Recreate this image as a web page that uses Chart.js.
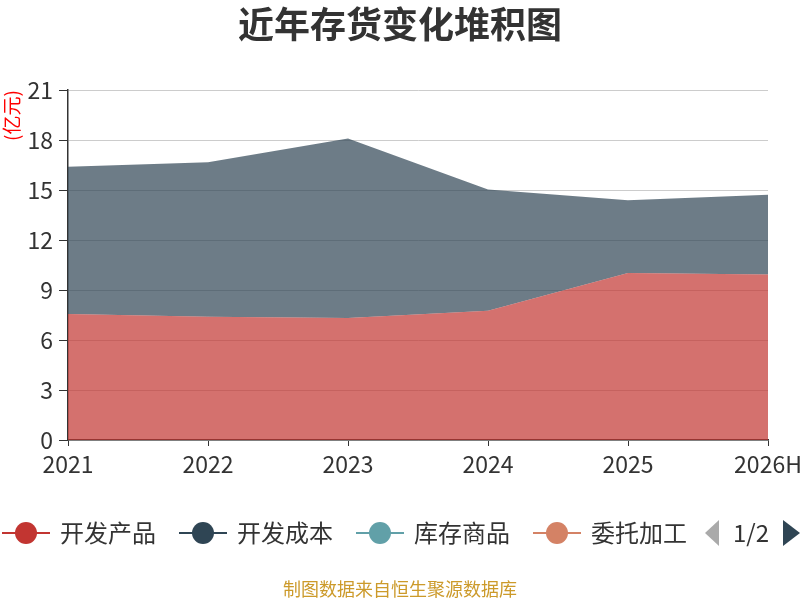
<!DOCTYPE html>
<html>
<head>
<meta charset="utf-8">
<script src="https://cdn.jsdelivr.net/npm/chart.js@4/dist/chart.umd.min.js"></script>
<style>
  html, body { margin: 0; padding: 0; background: #fff; }
  #wrap { width: 800px; height: 600px; }
</style>
</head>
<body>
<div id="wrap"><canvas id="chart"></canvas></div>
<script>
const years = ['2021', '2022', '2023', '2024', '2025', '2026H'];
const devProducts = [7.56, 7.4, 7.32, 7.76, 10.02, 9.94];
const devCost = [8.84, 9.28, 10.78, 7.28, 4.38, 4.78];
const stockGoods = [0, 0, 0, 0, 0, 0];
const consigned = [0, 0, 0, 0, 0, 0];
const seriesNames = ['开发产品', '开发成本', '库存商品', '委托加工'];
const seriesColors = ['#c23531', '#2f4554', '#61a0a8', '#d48265'];
const fillColors = ['rgba(194,53,49,0.7)', 'rgba(47,69,84,0.7)', 'rgba(97,160,168,0.7)', 'rgba(212,130,101,0.7)'];
const yMax = 21;
const yStep = 3;

const FONT = '"Noto Sans CJK SC", "Noto Sans", sans-serif';

// legend + pager + source note drawn under the plot
const bottomLegend = {
  id: 'bottomLegend',
  afterDraw(chart) {
    const ctx = chart.ctx;
    const y = 533;
    let x = 2;
    ctx.save();
    ctx.font = '24px ' + FONT;
    ctx.textBaseline = 'middle';
    chart.data.datasets.forEach((ds, i) => {
      const c = seriesColors[i];
      ctx.strokeStyle = c;
      ctx.lineWidth = 2;
      ctx.beginPath();
      ctx.moveTo(x, y);
      ctx.lineTo(x + 48, y);
      ctx.stroke();
      ctx.fillStyle = c;
      ctx.beginPath();
      ctx.arc(x + 24, y, 11, 0, Math.PI * 2);
      ctx.fill();
      ctx.fillStyle = '#333';
      ctx.textAlign = 'left';
      ctx.fillText(ds.label, x + 58, y);
      x += 58 + ctx.measureText(ds.label).width + 23;
    });
    // pager
    ctx.fillStyle = '#aaa';
    ctx.beginPath();
    ctx.moveTo(705, y);
    ctx.lineTo(719, y - 13);
    ctx.lineTo(719, y + 13);
    ctx.closePath();
    ctx.fill();
    ctx.fillStyle = '#333';
    ctx.textAlign = 'center';
    ctx.fillText('1/2', 751, y);
    ctx.fillStyle = '#2f4554';
    ctx.beginPath();
    ctx.moveTo(800, y);
    ctx.lineTo(783, y - 13);
    ctx.lineTo(783, y + 13);
    ctx.closePath();
    ctx.fill();
    // source note
    ctx.font = '18px ' + FONT;
    ctx.fillStyle = '#cc9a2a';
    ctx.fillText('制图数据来自恒生聚源数据库', 400, 589);
    ctx.restore();
  }
};

const dataSets = [devProducts, devCost, stockGoods, consigned].map((vals, i) => ({
  label: seriesNames[i],
  data: vals,
  backgroundColor: fillColors[i],
  borderColor: seriesColors[i],
  borderWidth: 0,
  pointRadius: 0,
  tension: 0,
  fill: i === 0 ? 'origin' : (i === 1 ? '-1' : false)
}));

new Chart(document.getElementById('chart'), {
  type: 'line',
  data: { labels: years, datasets: dataSets },
  options: {
    responsive: true,
    maintainAspectRatio: false,
    animation: false,
    layout: { padding: { left: 0, right: 0, top: 0, bottom: 120 } },
    plugins: {
      legend: { display: false },
      tooltip: { enabled: false },
      title: {
        display: true,
        text: '近年存货变化堆积图',
        color: '#333',
        font: { family: FONT, size: 36, weight: 'bold' },
        padding: { top: 3, bottom: 44 }
      }
    },
    scales: {
      x: {
        offset: false,
        grid: { drawOnChartArea: false, tickLength: 6, tickColor: '#333' },
        border: { color: '#333', width: 1.5 },
        ticks: { color: '#333', padding: 4, maxRotation: 0, font: { family: FONT, size: 23 } },
        afterFit(scale) {
          scale.height = 40;
          scale.paddingRight = 32;
        }
      },
      y: {
        stacked: true,
        min: 0,
        max: yMax,
        grid: { color: '#ccc', tickLength: 9, tickColor: '#333' },
        border: { color: '#333', width: 1.5 },
        ticks: { stepSize: yStep, color: '#333', padding: 6, font: { family: FONT, size: 23 } },
        title: {
          display: true,
          text: '(亿元)',
          color: 'red',
          align: 'end',
          padding: 0,
          font: { family: FONT, size: 19 }
        },
        afterFit(scale) { scale.width = 68; }
      }
    }
  },
  plugins: [bottomLegend]
});
</script>
</body>
</html>
